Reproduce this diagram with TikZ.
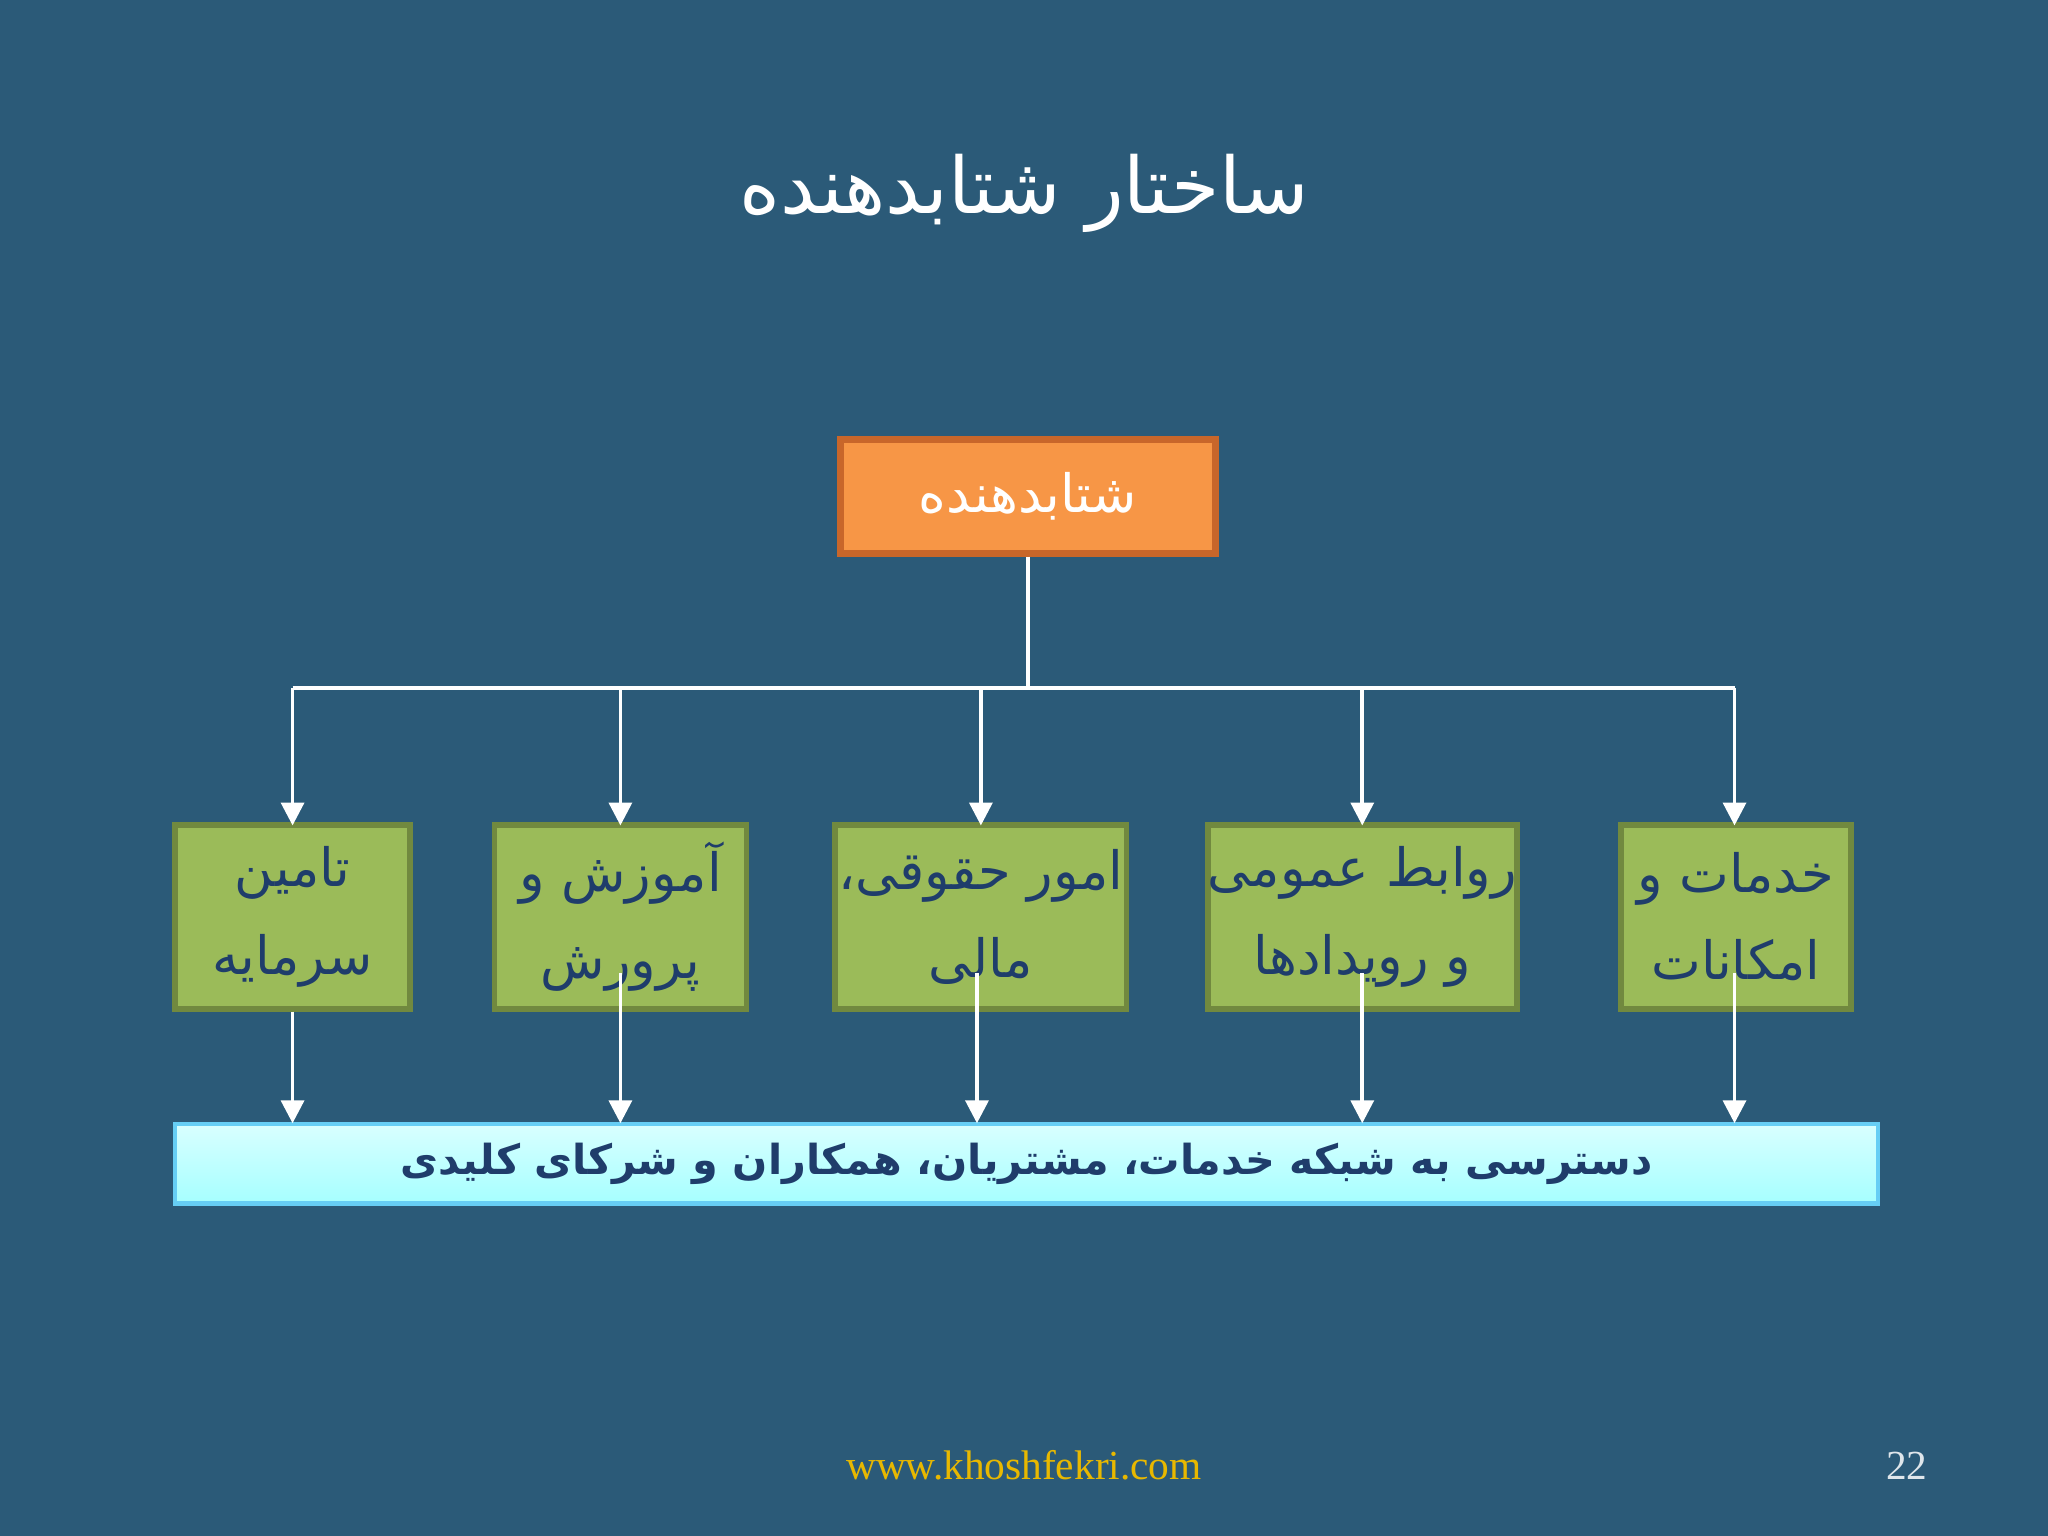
\documentclass[tikz,border=0pt]{standalone}
\usepackage{fontspec}
\setmainfont{Liberation Serif}
\newfontfamily\arabicfont[Script=Arabic]{DejaVu Sans}
\TeXXeTstate=1
\usetikzlibrary{arrows.meta}
\definecolor{bg}{HTML}{2B5A78}
\definecolor{org}{HTML}{F79646}
\definecolor{orgb}{HTML}{C8662A}
\definecolor{grn}{HTML}{9BBB59}
\definecolor{grnb}{HTML}{71893F}
\definecolor{dblue}{HTML}{1F3D6B}
\definecolor{gold}{HTML}{E8B800}
\begin{document}
\begin{tikzpicture}[x=0.01cm,y=-0.01cm,
  gbox/.style={draw=grnb,line width=1.2pt,fill=grn,text=dblue,font=\arabicfont\fontsize{11.5}{19}\selectfont,align=center,inner sep=0pt,minimum height=1.41cm},
  conn/.style={draw=white,line width=0.8pt},
  arr/.style={conn,-{Triangle[width=5pt,length=5pt]}}]
\fill[bg] (0,0) rectangle (1568,1176);
\useasboundingbox (0,0) rectangle (1568,1176);
\node[text=white,font=\arabicfont\fontsize{17}{20}\selectfont] (title) at (784,148) {\beginR ساختار شتابدهنده\endR};
\node[draw=orgb,line width=1.5pt,fill=org,text=white,minimum width=2.87cm,minimum height=0.87cm,font=\arabicfont\fontsize{11.5}{14}\selectfont,inner sep=0pt] (root) at (787,380) {\beginR شتابدهنده\endR};
\node[gbox,minimum width=1.80cm] (b1) at (224,702) {\beginR تامین\endR\\\beginR سرمایه\endR};
\node[gbox,minimum width=1.93cm] (b2) at (475,702) {\beginR آموزش و\endR\\\beginR پرورش\endR};
\node[gbox,minimum width=2.23cm] (b3) at (751,702) {\beginR امور حقوقی،\endR\\\beginR مالی\endR};
\node[gbox,minimum width=2.33cm] (b4) at (1043,702) {\beginR روابط عمومی\endR\\\beginR و رویدادها\endR};
\node[gbox,minimum width=1.76cm] (b5) at (1329,702) {\beginR خدمات و\endR\\\beginR امکانات\endR};
\node[draw=cyan!60,line width=1pt,top color=cyan!15,bottom color=cyan!35!white,minimum width=13.03cm,minimum height=0.61cm,inner sep=0pt,text=dblue,font=\arabicfont\bfseries\fontsize{9}{12}\selectfont] (bar) at (786,891) {\beginR دسترسی به شبکه خدمات، مشتریان، همکاران و شرکای کلیدی\endR};
\coordinate (j) at (787,527);
\draw[conn] (root.south) -- (j);
\draw[conn] (224,527) -- (1328,527);
\foreach \x in {224,475,751,1043,1328}{
  \draw[arr] (\x,527) -- (\x,632);
}
\draw[arr] (b1.south) -- (224,860);
\draw[arr] (475,745) -- (475,860);
\draw[arr] (748,745) -- (748,860);
\draw[arr] (1043,745) -- (1043,860);
\draw[arr] (1328,745) -- (1328,860);
\node[text=gold,font=\fontsize{9}{12}\selectfont] (url) at (784,1122) {www.khoshfekri.com};
\node[text=white!85!bg,font=\fontsize{9}{12}\selectfont] (pg) at (1460,1122) {22};
\end{tikzpicture}
\end{document}
